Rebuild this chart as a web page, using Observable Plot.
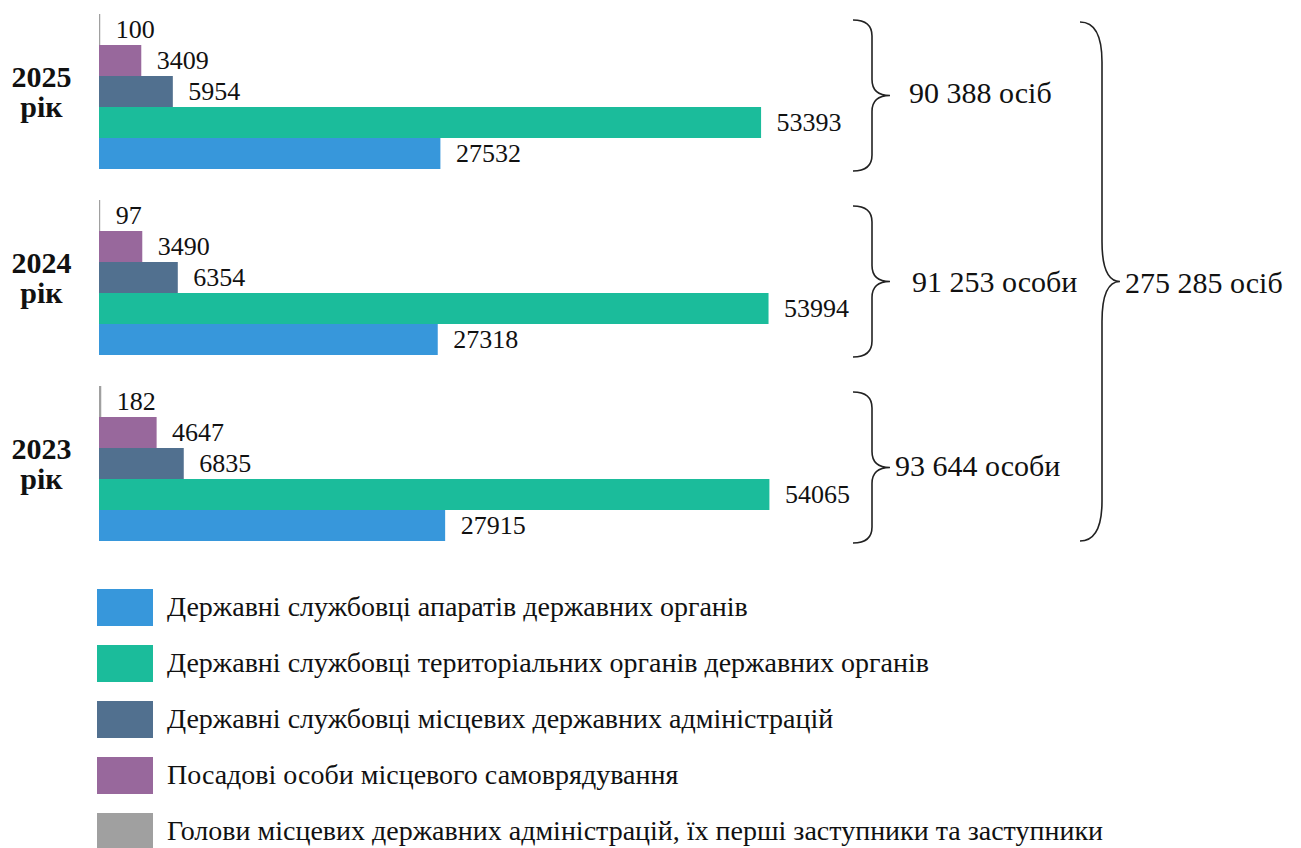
<!DOCTYPE html>
<html><head><meta charset="utf-8">
<script src="https://cdn.jsdelivr.net/npm/d3@7"></script>
<script src="https://cdn.jsdelivr.net/npm/@observablehq/plot@0.6"></script>
<style>
body{margin:0;background:#fff;font-family:"Liberation Serif",serif;}
#chart svg{display:block}
#legend{margin-left:97px;margin-top:23px}
.row{display:flex;align-items:center;height:56px}
.sw{width:56px;height:37px;margin-right:14px;flex:none}
.lab{font-size:28px;color:#111;white-space:nowrap;line-height:1}
</style></head><body><div id="chart"></div><div id="legend"></div>
<script>
const years = ["2025", "2024", "2023"];
const yearLabels = ["2025\nрік", "2024\nрік", "2023\nрік"];
const categories = [
  "Державні службовці апаратів державних органів",
  "Державні службовці територіальних органів державних органів",
  "Державні службовці місцевих державних адміністрацій",
  "Посадові особи місцевого самоврядування",
  "Голови місцевих державних адміністрацій, їх перші заступники та заступники"
];
const colors = ["#3797db", "#1bbc9b", "#51708f", "#98689c", "#a0a0a0"];
const apparatus = [27532, 27318, 27915];
const territorial = [53393, 53994, 54065];
const localAdmin = [5954, 6354, 6835];
const selfGov = [3409, 3490, 4647];
const heads = [100, 97, 182];
const groupTotals = ["90 388 осіб", "91 253 особи", "93 644 особи"];
const grandTotal = "275 285 осіб";

const seriesValues = [apparatus, territorial, localAdmin, selfGov, heads];
const rowOrder = [4, 3, 2, 1, 0];
const rows = [];
const yDomain = [];
years.forEach((yr, i) => {
  if (i > 0) yDomain.push("gap|" + i);
  rowOrder.forEach(c => {
    const key = yr + "|" + c;
    yDomain.push(key);
    rows.push({year: yr, cat: categories[c], value: seriesValues[c][i], key});
  });
});
const yearRows = years.map((yr, i) => ({key: yr + "|2", label: yearLabels[i]}));

const chart = Plot.plot({
  width: 1301,
  height: 556,
  marginLeft: 99,
  marginRight: 458,
  marginTop: 10,
  marginBottom: 11,
  style: {fontFamily: "Liberation Serif", background: "#fff"},
  x: {domain: [0, 60000], axis: null},
  y: {domain: yDomain, axis: null, padding: 0},
  color: {domain: categories, range: colors},
  marks: [
    Plot.ruleX(rows, {x: d => 0, y: "key", stroke: "#bdbdbd", strokeWidth: 1}),
    Plot.barX(rows, {x: "value", y: "key", fill: "cat", inset: 0}),
    Plot.text(rows, {x: "value", y: "key", text: d => String(d.value), dx: 15, textAnchor: "start", fontSize: 26, fill: "#111"}),
    Plot.text(yearRows, {x: d => 0, y: "key", text: "label", dx: -58, dy: 0, textAnchor: "middle", lineAnchor: "middle", fontSize: 30, fontWeight: "bold", fill: "#111"})
  ]
});
document.getElementById("chart").appendChild(chart);

// braces and total annotations, positioned through Plot's y scale
const ys = chart.scale("y");
const svg = d3.select(chart);
const g = svg.append("g").attr("fill", "none").attr("stroke", "#222").attr("stroke-width", 1.6);
function brace(x0, x1, xt, top, bot, r) {
  const mid = (top + bot) / 2;
  return `M${x0},${top} Q${x1},${top} ${x1},${top + r} L${x1},${mid - r} Q${x1},${mid} ${xt},${mid} Q${x1},${mid} ${x1},${mid + r} L${x1},${bot - r} Q${x1},${bot} ${x0},${bot}`;
}
const labelDx = [19, 22, 5];
const labelDy = [7, 10, 8];
const ann = svg.append("g").attr("text-anchor", "start")
  .attr("font-family", "Liberation Serif").attr("font-size", 30).attr("fill", "#111");
years.forEach((yr, i) => {
  const top = ys.apply(yr + "|4") + 6;
  const bot = ys.apply(yr + "|0") + ys.bandwidth + 2;
  g.append("path").attr("d", brace(853, 872, 890, top, bot, 16));
  ann.append("text")
    .attr("x", 890 + labelDx[i]).attr("y", (top + bot) / 2 + labelDy[i])
    .text(groupTotals[i]);
});
const bigTop = ys.apply(years[0] + "|4") + 8;
const bigBot = ys.apply(years[2] + "|0") + ys.bandwidth;
g.append("path").attr("d", brace(1080, 1102, 1120, bigTop, bigBot, 40));
ann.append("text")
  .attr("x", 1125).attr("y", (bigTop + bigBot) / 2 + 11)
  .text(grandTotal);

// legend
const legend = d3.select("#legend");
categories.forEach((c, i) => {
  const r = legend.append("div").attr("class", "row");
  r.append("div").attr("class", "sw").style("background", colors[i]);
  r.append("div").attr("class", "lab").text(c);
});
</script>
</body></html>
